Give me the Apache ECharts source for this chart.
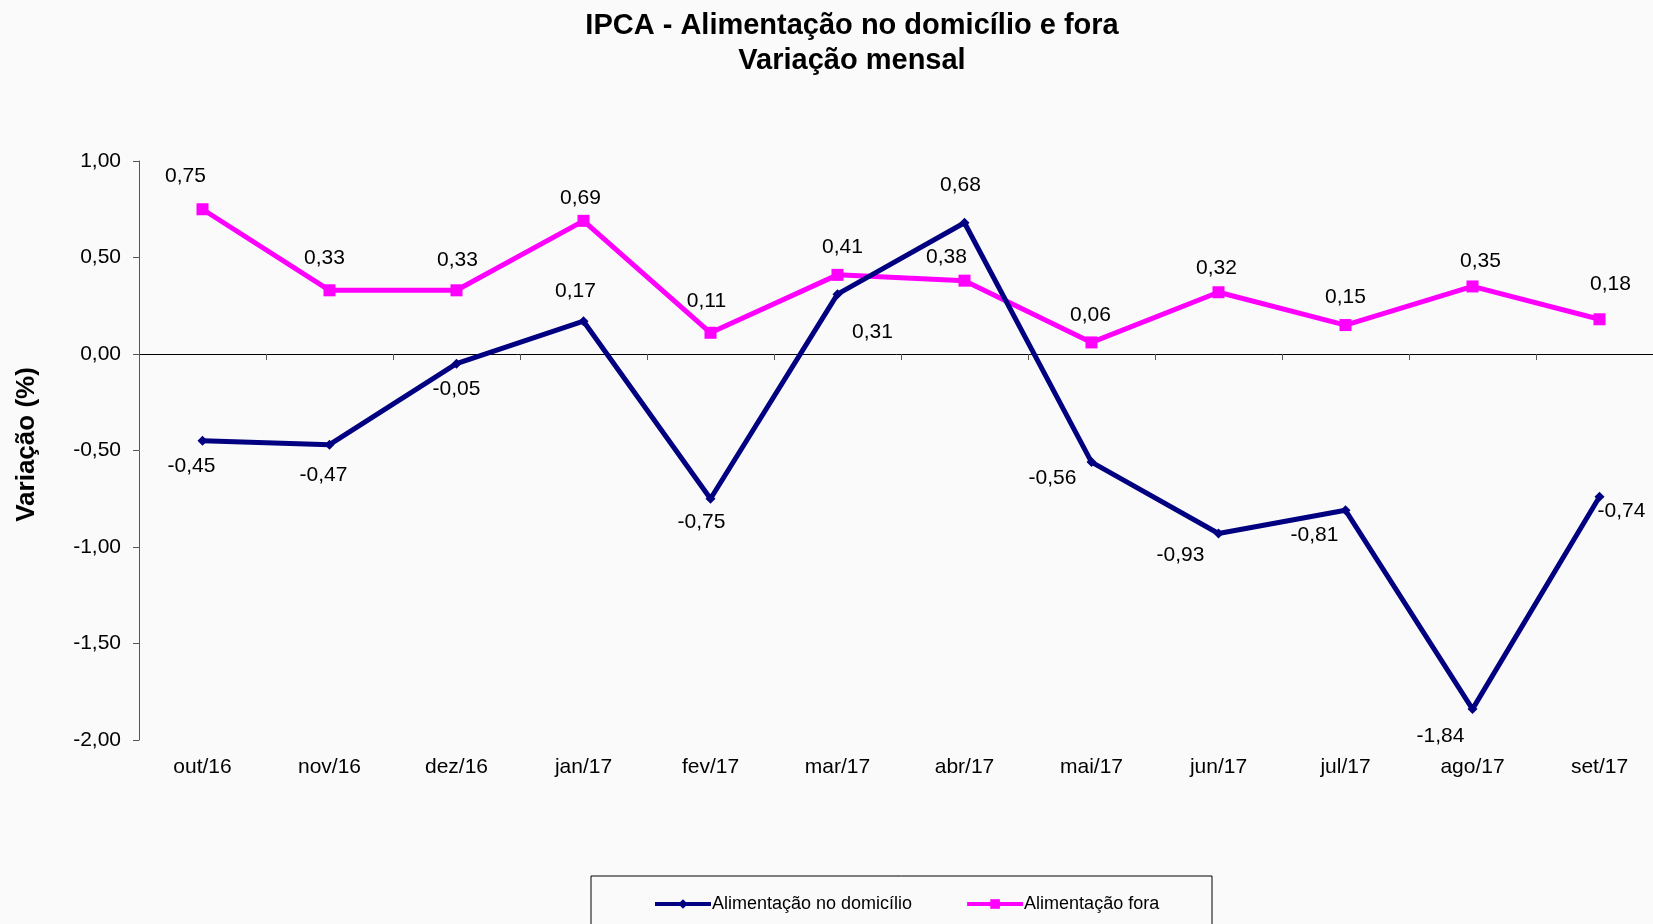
<!DOCTYPE html>
<html style="height:100%">
<head>
    <meta charset="utf-8">
    <title>IPCA - Alimentação</title>
    <script src="https://cdn.jsdelivr.net/npm/echarts@6/dist/echarts.min.js"></script>
</head>
<body style="height:100%;margin:0;background:#fafafa">
    <div id="main" style="width:1653px;height:924px;"></div>
    <script type="text/javascript">
        var meses = ['out/16', 'nov/16', 'dez/16', 'jan/17', 'fev/17', 'mar/17',
                     'abr/17', 'mai/17', 'jun/17', 'jul/17', 'ago/17', 'set/17'];
        var domicilio = [-0.45, -0.47, -0.05, 0.17, -0.75, 0.31, 0.68, -0.56, -0.93, -0.81, -1.84, -0.74];
        var fora = [0.75, 0.33, 0.33, 0.69, 0.11, 0.41, 0.38, 0.06, 0.32, 0.15, 0.35, 0.18];

        // deslocamento dos rótulos em relação ao ponto (px)
        var offDomicilio = [[-11, 25], [-6, 30], [0, 26], [-8, -30], [-9, 23], [35, 38],
                            [-4, -38], [-39, 16], [-38, 22], [-31, 25], [-32, 27], [22, 14]];
        var offFora = [[-17, -33], [-5, -32], [1, -30], [-3, -23], [-4, -32], [5, -28],
                       [-18, -23], [-1, -27], [-2, -24], [0, -28], [8, -25], [11, -35]];

        var fmt = function (v) { return v.toFixed(2).replace('.', ','); };

        function pontos(vals, offs) {
            return vals.map(function (v, i) {
                return { value: v, label: { offset: offs[i] } };
            });
        }

        var myChart = echarts.init(document.getElementById('main'));

        var labelBase = {
            show: true,
            position: 'inside',
            color: '#000',
            fontSize: 21,
            fontFamily: 'Liberation Sans, Arial, sans-serif',
            formatter: function (p) { return fmt(p.value); }
        };

        var option = {
            backgroundColor: '#fafafa',
            animation: false,
            textStyle: { fontFamily: 'Liberation Sans, Arial, sans-serif' },
            title: {
                text: 'IPCA - Alimentação no domicílio e fora\nVariação mensal',
                left: 847,
                textAlign: 'center',
                top: 3,
                textStyle: {
                    fontSize: 29,
                    fontWeight: 'bold',
                    color: '#000',
                    lineHeight: 35,
                    fontFamily: 'Liberation Sans, Arial, sans-serif'
                }
            },
            legend: {
                left: 648,
                top: 890,
                itemWidth: 56,
                itemHeight: 12,
                itemGap: 53,
                lineStyle: { width: 4 },
                textStyle: { fontSize: 18, color: '#000', padding: [0, 0, 0, -4] },
                data: ['Alimentação no domicílio', 'Alimentação fora']
            },
            graphic: [{
                type: 'rect',
                shape: { x: 591, y: 876, width: 621, height: 60 },
                style: { fill: 'none', stroke: '#000', lineWidth: 1 }
            }],
            grid: {
                left: 139,
                top: 161,
                width: 1524,
                height: 579,
                outerBoundsMode: 'none'
            },
            xAxis: [{
                type: 'category',
                data: meses,
                position: 'bottom',
                axisLine: { show: false, onZero: false },
                axisTick: { show: false },
                axisLabel: { fontSize: 21, color: '#000', margin: 17 }
            }, {
                type: 'category',
                data: meses,
                position: 'bottom',
                axisLine: { show: true, onZero: true, lineStyle: { color: '#000', width: 1 } },
                axisTick: { show: true, length: 6, lineStyle: { color: '#555' } },
                axisLabel: { show: false }
            }],
            yAxis: {
                type: 'value',
                min: -2,
                max: 1,
                interval: 0.5,
                name: 'Variação (%)',
                nameLocation: 'middle',
                nameRotate: 90,
                nameGap: 99,
                nameTextStyle: { fontSize: 26, fontWeight: 'bold', color: '#000', padding: [0, 0, 0, 12] },
                axisLine: { show: true, lineStyle: { color: '#555', width: 1 } },
                axisTick: { show: true, length: 6, lineStyle: { color: '#555' } },
                axisLabel: { fontSize: 21, color: '#000', margin: 18, formatter: fmt },
                splitLine: { show: false }
            },
            series: [{
                name: 'Alimentação no domicílio',
                type: 'line',
                data: pontos(domicilio, offDomicilio),
                symbol: 'diamond',
                symbolSize: 10,
                itemStyle: { color: '#000080' },
                lineStyle: { color: '#000080', width: 5 },
                label: labelBase,
                z: 3
            }, {
                name: 'Alimentação fora',
                type: 'line',
                data: pontos(fora, offFora),
                symbol: 'rect',
                symbolSize: 12,
                itemStyle: { color: '#ff00ff' },
                lineStyle: { color: '#ff00ff', width: 5 },
                label: labelBase,
                z: 2
            }]
        };

        myChart.setOption(option);
    </script>
</body>
</html>
